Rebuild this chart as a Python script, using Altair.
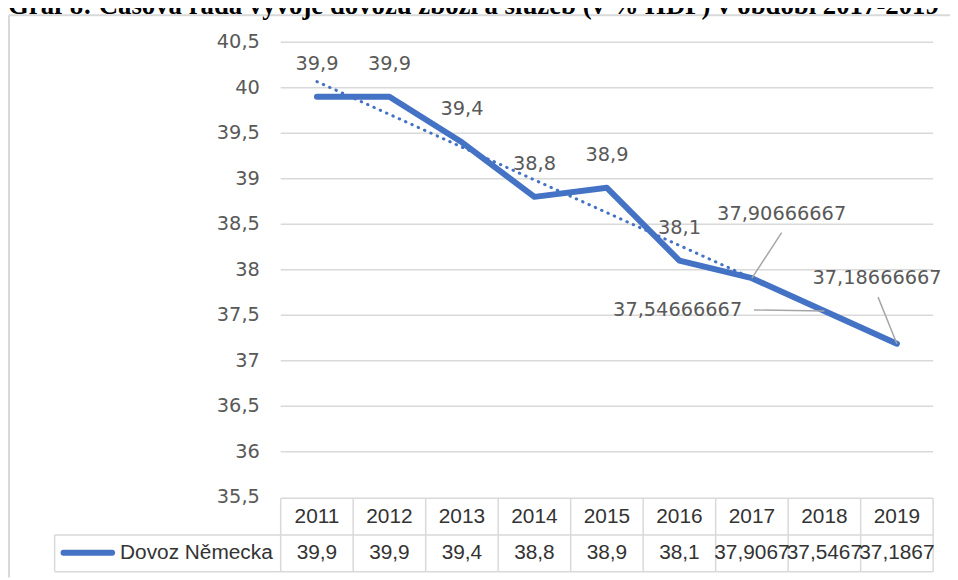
import altair as alt
import pandas as pd

title_text = "Graf 8: Časová řada vývoje dovozu zboží a služeb (v % HDP) v období 2017-2019"
series_name = "Dovoz Německa"
years = [2011, 2012, 2013, 2014, 2015, 2016, 2017, 2018, 2019]
values = [39.9, 39.9, 39.4, 38.8, 38.9, 38.1, 37.90666667, 37.54666667, 37.18666667]
y_ticks = [35.5, 36, 36.5, 37, 37.5, 38, 38.5, 39, 39.5, 40, 40.5]
y_tick_labels = ["35,5", "36", "36,5", "37", "37,5", "38", "38,5", "39", "39,5", "40", "40,5"]

BLUE = "#4472C4"
GRID = "#d9d9d9"
LABEL = "#595959"
TABLE_TXT = "#333333"
SANS = "DejaVu Sans"
TSANS = "Liberation Sans"
LSIZE = 19.5

df = pd.DataFrame({"year": years, "value": values})
df_ticks = pd.DataFrame({"tick": y_ticks, "tick_label": y_tick_labels})
df_edges = pd.DataFrame({"edge": [y - 0.5 for y in years] + [years[-1] + 0.5]})
one = pd.DataFrame({"a": [0]})

xs = alt.Scale(domain=[years[0] - 0.5, years[-1] + 0.5], range=[275, 933])
ys = alt.Scale(domain=[35.5, 40.5], range=[491, 32])

X = alt.X("year:Q", scale=xs, axis=None)
Y = alt.Y("value:Q", scale=ys, axis=None)

base = alt.Chart(df).transform_calculate(
    full_label="replace(toString(datum.value), '.', ',')",
    table_label="replace(format(datum.value, '.6~g'), '.', ',')",
)

def hrule(x1, x2, y, color=GRID, w=1.5):
    return alt.Chart(one).mark_rule(color=color, strokeWidth=w).encode(
        x=alt.value(x1), x2=alt.value(x2), y=alt.value(y))

def vrule(x, y1, y2, color=GRID, w=1.5):
    return alt.Chart(one).mark_rule(color=color, strokeWidth=w).encode(
        x=alt.value(x), y=alt.value(y1), y2=alt.value(y2))

# frame
frame = hrule(1, 950, 5, w=2) + vrule(1, 5, 572, w=2)

# title (cut off at top, like the reference)
title = alt.Chart(one).mark_text(
    text=title_text, font="Liberation Serif", fontWeight="bold", fontSize=27,
    align="left", baseline="alphabetic", color="#000000"
).encode(x=alt.value(0), y=alt.value(4))

grid = alt.Chart(df_ticks).transform_filter("datum.tick > 35.5").mark_rule(
    color=GRID, strokeWidth=1.5
).encode(y=alt.Y("tick:Q", scale=ys, axis=None), x=alt.value(275), x2=alt.value(933))

tick_text = alt.Chart(df_ticks).mark_text(
    align="right", baseline="middle", font=SANS, fontSize=LSIZE, color=LABEL
).encode(y=alt.Y("tick:Q", scale=ys, axis=None), x=alt.value(254), text="tick_label:N")

trend = alt.Chart(df).transform_regression(
    "year", "value", method="linear", extent=[years[0], years[-1]]
).mark_line(color=BLUE, strokeWidth=3, strokeDash=[0.5, 6.5], strokeCap="round").encode(x=X, y=Y)

line = alt.Chart(df).mark_line(
    color=BLUE, strokeWidth=6, strokeJoin="round", strokeCap="round"
).encode(x=X, y=Y)

labels = base.transform_filter("datum.year <= 2016").mark_text(
    font=SANS, fontSize=LSIZE, color=LABEL, dy=-33, baseline="middle", align="center"
).encode(x=X, y=Y, text="full_label:N")

callouts = []
for yr, dx, dy, ex, ey in [(2017, 30, -65, 30, -46), (2018, -148, -1, -71, -1), (2019, -20, -66, -19, -47)]:
    callouts.append(
        alt.Chart(df).transform_filter(f"datum.year == {yr}").mark_rule(
            color="#a6a6a6", strokeWidth=1.5, x2Offset=ex, y2Offset=ey
        ).encode(x=X, y=Y, x2=alt.X2("year"), y2=alt.Y2("value"))
    )
    callouts.append(
        base.transform_filter(f"datum.year == {yr}").mark_text(
            font=SANS, fontSize=LSIZE, color=LABEL, dx=dx, dy=dy, baseline="middle", align="center"
        ).encode(x=X, y=Y, text="full_label:N")
    )

# data table
table_lines = (
    hrule(275, 933, 492) + hrule(47, 933, 529) + hrule(47, 933, 566) + vrule(47, 529, 566)
    + alt.Chart(df_edges).mark_rule(color=GRID, strokeWidth=1.5).encode(
        x=alt.X("edge:Q", scale=xs, axis=None), y=alt.value(492), y2=alt.value(566))
)
header_text = alt.Chart(df).mark_text(
    font=TSANS, fontSize=21, color=TABLE_TXT, baseline="middle", align="center"
).encode(x=X, y=alt.value(510.5), text="year:N")
value_text = base.mark_text(
    font=TSANS, fontSize=21, color=TABLE_TXT, baseline="middle", align="center"
).encode(x=X, y=alt.value(547), text="table_label:N")
swatch = alt.Chart(one).mark_rule(color=BLUE, strokeWidth=6, strokeCap="round").encode(
    x=alt.value(56), x2=alt.value(105), y=alt.value(547))
series_text = alt.Chart(one).mark_text(
    text=series_name, font=TSANS, fontSize=21, color=TABLE_TXT, align="right", baseline="middle"
).encode(x=alt.value(267), y=alt.value(547))

chart = alt.layer(
    frame, title, grid, tick_text, trend, line, labels, *callouts,
    table_lines, header_text, value_text, swatch, series_text
).properties(
    width=950, height=572, autosize="none", padding=0, background="white"
).configure_view(strokeWidth=0)

chart.save("out.html", embed_options={"renderer": "svg", "actions": False})
